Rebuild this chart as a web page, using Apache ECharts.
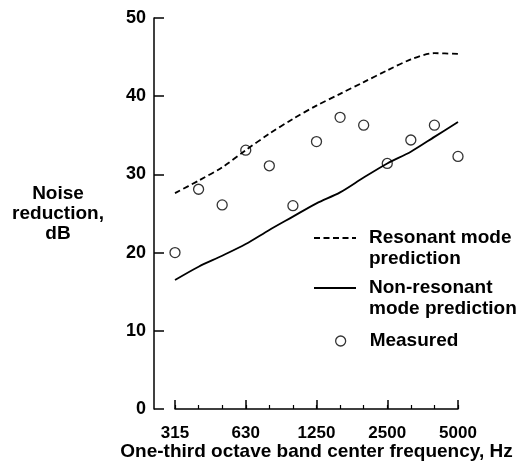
<!DOCTYPE html>
<html><head><meta charset="utf-8">
<script src="https://cdn.jsdelivr.net/npm/echarts@6/dist/echarts.min.js"></script>
<style>html,body{margin:0;padding:0;background:#fff}#c{width:518px;height:463px}</style>
</head><body><div id="c"></div>
<script>
const categories = ['315','400','500','630','800','1000','1250','1600','2000','2500','3150','4000','5000'];
const resonant = [27.6,29.2,30.9,33.1,35.2,37.1,38.8,40.3,41.8,43.3,44.7,45.5,45.4];
const nonResonant = [16.5,18.2,19.6,21.1,22.9,24.6,26.3,27.7,29.6,31.4,32.9,34.8,36.7];
const measured = [20.0,28.1,26.1,33.1,31.1,26.0,34.2,37.3,36.3,31.4,34.4,36.3,32.3];
const yMin = 0, yMax = 50, yStep = 10;
const names = {
  res: 'Resonant mode\nprediction',
  non: 'Non-resonant\nmode prediction',
  meas: 'Measured'
};

const FONT = "'Liberation Sans', Arial, Helvetica, sans-serif";
const txt = {color:'#000', fontFamily: FONT, fontWeight:'bold'};
const chart = echarts.init(document.getElementById('c'), null, {renderer:'canvas'});
const legendBase = {
  orient:'vertical', padding:0, selectedMode:false, itemGap:0,
  textStyle: Object.assign({fontSize:19, lineHeight:21}, txt)
};
const noSym = {opacity:0, borderWidth:0};
chart.setOption({
  animation:false,
  backgroundColor:'#fff',
  grid:{left:175, right:60, top:18, bottom:54, containLabel:false, outerBoundsMode:'none'},
  xAxis:[{
    type:'category', data:categories, boundaryGap:false, position:'bottom',
    axisLine:{lineStyle:{color:'#000', width:1.5}},
    axisTick:{inside:true, length:4, interval:0, lineStyle:{color:'#000', width:1.2}},
    axisLabel:{show:false}, splitLine:{show:false}
  },{
    type:'category', data:categories, boundaryGap:false, position:'bottom', offset:0,
    axisLine:{show:false},
    axisTick:{inside:true, length:9, interval:2, lineStyle:{color:'#000', width:1.5}},
    axisLabel:Object.assign({interval:2, fontSize:17, margin:16}, txt),
    name:'One-third octave band center frequency, Hz', nameLocation:'middle', nameGap:33,
    nameMoveOverlap:false,
    nameTextStyle:Object.assign({fontSize:19}, txt),
    splitLine:{show:false}
  }],
  yAxis:{
    type:'value', min:yMin, max:yMax, interval:yStep, offset:21,
    axisLine:{show:true, lineStyle:{color:'#000', width:1.5}},
    axisTick:{show:true, inside:true, length:10, lineStyle:{color:'#000', width:1.5}},
    axisLabel:Object.assign({fontSize:18, margin:8}, txt),
    splitLine:{show:false},
    name:'Noise\nreduction,\ndB', nameLocation:'middle', nameRotate:0, nameGap:96,
    nameMoveOverlap:false,
    nameTextStyle:Object.assign({fontSize:19, lineHeight:20, align:'center', verticalAlign:'middle'}, txt)
  },
  legend:[
    Object.assign({}, legendBase, {left:313, top:206.5, itemWidth:42, itemHeight:10,
      formatter: n => '\n' + n,
      data:[{name:names.res, itemStyle:noSym, textStyle:{padding:[0,0,0,8]}}]}),
    Object.assign({}, legendBase, {left:313, top:256.5, itemWidth:42, itemHeight:10,
      formatter: n => '\n' + n,
      data:[{name:names.non, itemStyle:noSym, textStyle:{padding:[0,0,0,8]}}]}),
    Object.assign({}, legendBase, {left:335, top:330.5, itemWidth:10, itemHeight:10,
      data:[{name:names.meas, icon:'circle', textStyle:{padding:[0,0,0,19]},
        itemStyle:{color:'#fff', borderColor:'#000', borderWidth:1.3}}]})
  ],
  series:[
    {name:names.res, type:'line', data:resonant, xAxisIndex:0, symbol:'none', smooth:0.3,
      lineStyle:{color:'#000', width:1.8, type:[6,3.5]}, itemStyle:{color:'#000'}},
    {name:names.non, type:'line', data:nonResonant, xAxisIndex:0, symbol:'none', smooth:0.3,
      lineStyle:{color:'#000', width:1.8}, itemStyle:{color:'#000'}},
    {name:names.meas, type:'scatter', data:measured, xAxisIndex:0, symbol:'circle', symbolSize:10,
      itemStyle:{color:'#fff', borderColor:'#000', borderWidth:1.3}}
  ]
});
</script></body></html>
